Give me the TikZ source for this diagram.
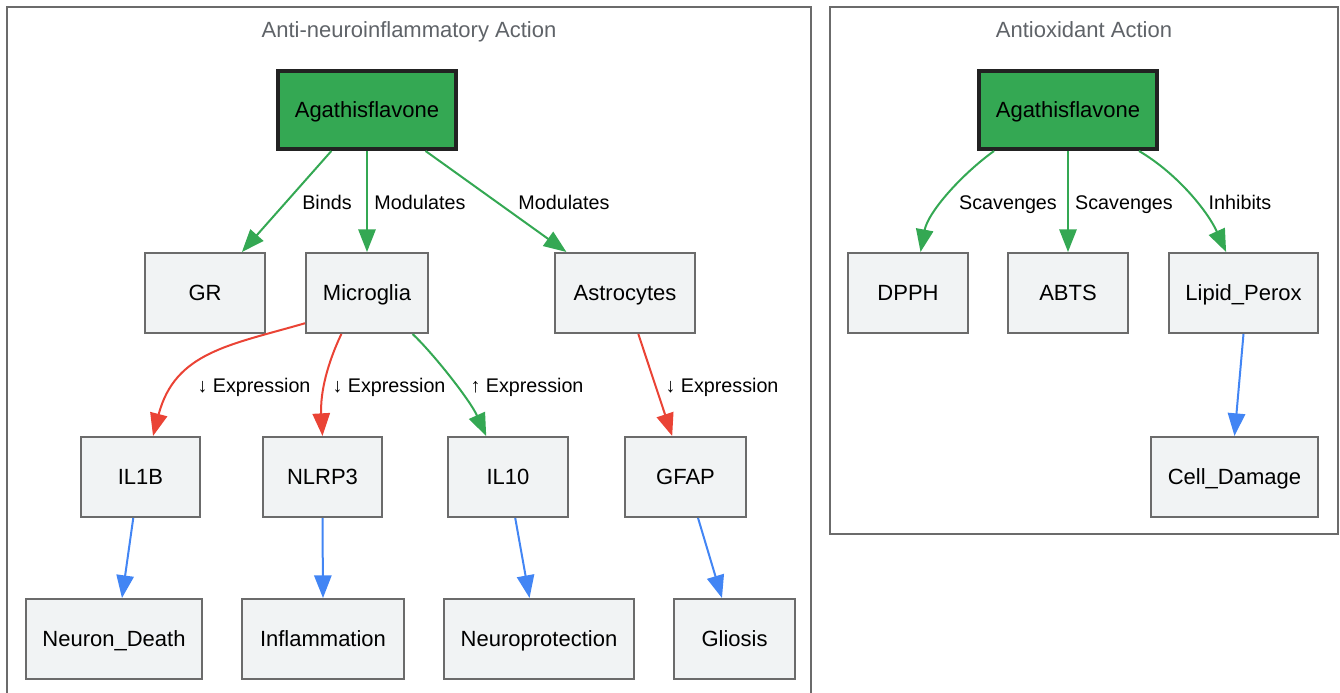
\documentclass[tikz,border=0pt]{standalone}
\usepackage{fontspec}
\setmainfont{Liberation Sans}
\usetikzlibrary{arrows.meta}
\definecolor{ggreen}{HTML}{34A853}
\definecolor{gred}{HTML}{EA4335}
\definecolor{gblue}{HTML}{4285F4}
\definecolor{boxfill}{HTML}{F1F3F4}
\definecolor{boxline}{HTML}{6B6B6B}
\definecolor{darkline}{HTML}{222222}
\definecolor{titlegray}{HTML}{5F6368}
\tikzset{
  gbox/.style={draw=boxline, line width=1.5pt, fill=boxfill, inner sep=0pt, minimum height=60pt,
    font=\fontsize{16.5}{19}\selectfont, text=black, text height=11.8pt, text depth=0pt},
  agbox/.style={draw=darkline, line width=3pt, fill=ggreen, inner sep=0pt, minimum width=133pt, minimum height=58.5pt,
    font=\fontsize{16.5}{19}\selectfont, text=black, text height=11.8pt, text depth=0pt},
  cluster/.style={draw=boxline, line width=1.5pt},
  ctitle/.style={font=\fontsize{16.5}{19}\selectfont, text=titlegray, text height=11.8pt, text depth=0pt, inner sep=0pt},
  lbl/.style={font=\fontsize{14.8}{18}\selectfont, text=black, inner sep=0pt, text height=10.6pt, text depth=0pt},
  edge/.style={line width=1.5pt, -{Triangle[length=17pt,width=13pt]}},
  ge/.style={edge, draw=ggreen},
  re/.style={edge, draw=gred},
  be/.style={edge, draw=gblue},
}
\begin{document}
\begin{tikzpicture}[x=0.75pt,y=-0.75pt]
\useasboundingbox (0,0) rectangle (1340,693);
% clusters
\draw[cluster] (7,710) -- (7,7) -- (811,7) -- (811,710);
\draw[cluster] (830,7) rectangle (1338,534);
\node[ctitle] (t1) at (409,30) {Anti-neuroinflammatory Action};
\node[ctitle] (t2) at (1084,30) {Antioxidant Action};
% left nodes
\node[agbox] (ag1) at (367,110) {Agathisflavone};
\node[gbox, minimum width=90pt] (gr) at (205,293) {GR};
\node[gbox, minimum width=91.5pt] (mic) at (367,293) {Microglia};
\node[gbox, minimum width=105pt] (ast) at (625,293) {Astrocytes};
\node[gbox, minimum width=89.25pt] (il1b) at (140.5,477) {IL1B};
\node[gbox, minimum width=89.25pt] (nlrp) at (322.5,477) {NLRP3};
\node[gbox, minimum width=90pt] (il10) at (508,477) {IL10};
\node[gbox, minimum width=90.75pt] (gfap) at (685.5,477) {GFAP};
\node[gbox, minimum width=132pt] (nd) at (114,639) {Neuron\_Death};
\node[gbox, minimum width=121.5pt] (infl) at (323,639) {Inflammation};
\node[gbox, minimum width=142.5pt] (np) at (539,639) {Neuroprotection};
\node[gbox, minimum width=90.75pt] (gli) at (734.5,639) {Gliosis};
% right nodes
\node[agbox] (ag2) at (1068,110) {Agathisflavone};
\node[gbox, minimum width=90pt] (dpph) at (908,293) {DPPH};
\node[gbox, minimum width=90pt] (abts) at (1068,293) {ABTS};
\node[gbox, minimum width=111.75pt] (lip) at (1243.5,293) {Lipid\_Perox};
\node[gbox, minimum width=125.25pt] (cell) at (1234.5,477) {Cell\_Damage};
% left edges
\draw[ge] (ag1.229) -- (gr.48);
\draw[ge] (ag1.south) -- (mic.north);
\draw[ge] (ag1.325) -- (ast.145);
\draw[re] (mic.206) .. controls (230,345) and (175,352) .. (il1b.73);
\draw[re] (mic.238) .. controls (328,362) and (320,392) .. (nlrp.north);
\draw[ge] (mic.318) .. controls (432,352) and (470,400) .. (il10.118);
\draw[re] (ast.288) -- (gfap.108);
\draw[be] (il1b.260) -- (nd.79);
\draw[be] (nlrp.south) -- (infl.north);
\draw[be] (il10.280) -- (np.103);
\draw[be] (gfap.287) -- (gli.107);
% right edges
\draw[ge] (ag2.209) .. controls (962,174) and (928,212) .. (dpph.73);
\draw[ge] (ag2.south) -- (abts.north);
\draw[ge] (ag2.330) .. controls (1178,174) and (1208,212) .. (lip.113);
\draw[be] (lip.south) -- (cell.north);
% labels
\node[lbl] (l1) at (327,202) {Binds};
\node[lbl] (l2) at (420,202) {Modulates};
\node[lbl] (l3) at (564,202) {Modulates};
\node[lbl] (l4) at (254,385) {↓ Expression};
\node[lbl] (l5) at (389,385) {↓ Expression};
\node[lbl] (l6) at (527,385) {↑ Expression};
\node[lbl] (l7) at (722,385) {↓ Expression};
\node[lbl] (l8) at (1008,202) {Scavenges};
\node[lbl] (l9) at (1124,202) {Scavenges};
\node[lbl] (l10) at (1240,202) {Inhibits};
\end{tikzpicture}
\end{document}
